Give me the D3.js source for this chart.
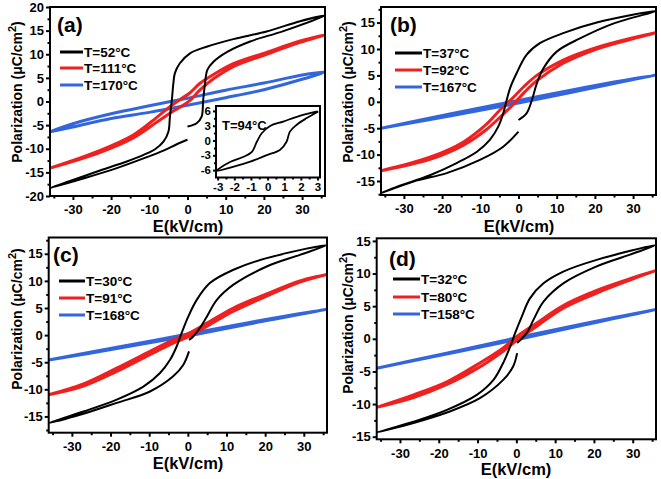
<!DOCTYPE html>
<html><head><meta charset="utf-8">
<script src="https://cdn.jsdelivr.net/npm/d3@7"></script>
<style>
body{margin:0;background:#fff;}
svg{display:block;font-family:"Liberation Sans",Arial,sans-serif;font-weight:bold;}
</style></head><body>
<svg id="c" width="661" height="479"></svg>
<script>
// ---------- DATA ----------
const xTicks = [-30,-20,-10,0,10,20,30];
const yTicksA = [-20,-15,-10,-5,0,5,10,15,20];
const yTicksB = [-15,-10,-5,0,5,10,15];
const yTicksC = [-15,-10,-5,0,5,10,15];
const yTicksD = [-15,-10,-5,0,5,10,15];
const insetXTicks = [-3,-2,-1,0,1,2,3];
const insetYTicks = [-6,-3,0,3,6];
const panelLabels = ["(a)","(b)","(c)","(d)"];
const legendA = ["T=52°C","T=111°C","T=170°C"];
const legendB = ["T=37°C","T=92°C","T=167°C"];
const legendC = ["T=30°C","T=91°C","T=168°C"];
const legendD = ["T=32°C","T=80°C","T=158°C"];
const insetLabel = "T=94°C";

// panel (a) loops [E, P] in traversal order
const aBlack = [[0,-5.3],[2.4,-4.6],[3.7,-3.2],[4.1,0.3],[4.6,3.85],[5.2,6.7],[6.8,8.4],[10.4,10.5],[16.4,12.7],[25.1,14.9],[36,18.2],
  [29.5,17.0],[20.7,14.8],[12.0,13.2],[5.0,11.6],[0.66,10.2],[-2.0,8.1],[-3.3,6.0],[-3.7,3.85],[-4.1,0.3],[-4.6,-3.2],[-5.0,-6.4],[-6.3,-8.5],[-8.5,-10.1],[-11.5,-11.3],[-15.9,-12.7],[-22.9,-14.6],[-30,-16.6],[-36,-18.3],
  [-27.3,-16.3],[-18.5,-14.1],[-10.7,-11.8],[-6.3,-10.4],[-2.8,-9.05],[0,-8.1]];
const aRed = [[-36,-14.1],[-23,-10.8],[-14.2,-7.7],[-8.1,-4.4],[-4.6,-2.5],[-2,-1.2],[0.6,0.2],[3.2,2.4],[6.8,4.8],[12,7.4],[20.7,10.0],[29.5,12.5],[36,14.1],
  [29.5,12.8],[20.7,10.4],[12,8.0],[6.8,5.7],[3.2,3.8],[0.6,1.8],[-2,0.4],[-4.6,-1.1],[-8.1,-3.4],[-14.2,-7.1],[-23,-10.4],[-36,-14.1]];
const aBlue = [[-36,-6.4],[-30,-5.4],[-20,-3.6],[-10,-2.3],[0,-0.8],[10,0.8],[20,2.5],[30,4.7],[36,6.3],
  [30,5.6],[20,3.9],[10,2.4],[0,0.7],[-10,-0.9],[-20,-2.6],[-30,-4.7],[-36,-6.4]];
const insetLoop = [[3.0,5.9],[1.93,5.0],[0.94,3.85],[0.15,2.96],[-0.35,1.47],[-0.64,-0.2],[-0.94,-2.3],[-1.44,-3.3],[-2.23,-4.3],[-3.0,-5.9],
  [-3.1,-6.2],[-2.03,-5.3],[-1.04,-4.3],[-0.05,-2.96],[0.74,-1.94],[1.14,-0.24],[1.34,1.8],[1.74,3.16],[2.33,4.5],[3.05,5.9]];

// panel (b)
const bBlack = [[0,-3.45],[2.1,-2.2],[3.5,0.3],[4.8,3.5],[6.5,6.3],[10,9.5],[16.1,12.0],[24.8,14.8],[36,17.2],
  [20.5,15.0],[11.7,13.0],[5.6,11.1],[2.1,8.9],[-0.5,5.4],[-2.2,2.6],[-3.1,0.3],[-4.0,-2.2],[-5.3,-4.7],[-7.5,-7.2],[-10.9,-9.45],[-16.2,-11.6],[-23.2,-13.9],[-31.9,-16.1],[-36,-17.3],
  [-27.5,-15.1],[-18.8,-13.5],[-10.1,-11.0],[-4.0,-8.5],[0,-5.66]];
const bRed = [[-36,-13.05],[-23.2,-10.9],[-14.4,-8.2],[-8.3,-5.2],[-4.8,-2.9],[-1.4,-0.5],[1.3,1.6],[4.8,4.0],[11.7,7.3],[20.5,10.0],[29.2,11.8],[36,13.1],
  [29.2,12.0],[20.5,10.3],[11.7,7.9],[4.8,5.0],[1.3,2.8],[-1.4,0.8],[-4.8,-1.5],[-8.3,-4.2],[-14.4,-7.6],[-23.2,-10.5],[-36,-13.05]];
const bBlue = [[-36,-5.0],[-18,-2.7],[0,-0.25],[18,2.4],[36,5.1],[18,2.8],[0,0.25],[-18,-2.3],[-36,-5.0]];

// panel (c)
const cBlack = [[0.3,-0.87],[1.4,-0.25],[3.1,1.3],[4.9,3.4],[7.5,6.5],[11.8,9.3],[20.4,12.65],[29.0,14.8],[36,16.6],
  [20.4,14.2],[11.8,12.05],[5.7,9.6],[2.3,6.5],[0.1,3.4],[-1.6,0.4],[-2.9,-2.1],[-4.6,-4.55],[-7.2,-7.0],[-11.5,-9.5],[-18.4,-11.9],[-27.0,-14.1],[-36,-16.2],
  [-27,-14.5],[-18.4,-12.5],[-9.8,-10.4],[-3.8,-7.6],[-1.2,-5.5],[0.3,-3.0]];
const cRed = [[-36,-11.0],[-27,-9.4],[-18.4,-6.7],[-9.8,-3.6],[-3.8,-1.5],[0.3,-0.25],[4.9,1.6],[11.8,4.4],[20.4,7.2],[29,9.8],[36,11.2],
  [29,10.0],[20.4,7.6],[11.8,5.0],[4.9,2.2],[0.3,0.35],[-3.8,-0.9],[-9.8,-3.0],[-18.4,-6.1],[-27,-9.0],[-36,-11.0]];
const cBlue = [[-36,-4.6],[-18,-2.45],[0,-0.15],[18,2.35],[36,4.8],[18,2.6],[0,0.2],[-18,-2.2],[-36,-4.6]];

// panel (d)
const dBlack = [[0.2,-0.66],[2.7,0.9],[4.4,2.9],[7.0,5.7],[12.1,8.5],[20.7,11.1],[29.3,12.9],[36,14.35],
  [20.7,12.1],[12.1,10.3],[7.0,8.5],[3.5,6.2],[1.4,3.4],[-0.3,0.9],[-1.6,-1.2],[-3.4,-3.7],[-5.9,-6.3],[-10.2,-8.6],[-17.9,-10.9],[-26.5,-12.7],[-36,-14.35],
  [-26.5,-12.9],[-17.9,-11.3],[-9.4,-9.1],[-3.4,-6.3],[-0.8,-4.2],[0.2,-2.2]];
const dRed = [[-36,-10.5],[-26.5,-9.0],[-17.9,-7.0],[-9.4,-4.3],[-3.4,-1.9],[0.2,-0.2],[5.2,1.9],[12.1,4.7],[20.7,7.0],[29.3,9.0],[36,10.5],
  [29.3,9.2],[20.7,7.4],[12.1,5.1],[5.2,2.4],[0.2,0.4],[-3.4,-1.4],[-9.4,-3.7],[-17.9,-6.6],[-26.5,-8.6],[-36,-10.5]];
const dBlue = [[-36,-4.5],[-18,-2.35],[0,-0.15],[18,2.2],[36,4.5],[18,2.4],[0,0.15],[-18,-2.2],[-36,-4.5]];

// ---------- DRAW ----------
const svg = d3.select("#c");
const colors = ["#000000","#ee2020","#3366dd"];
const widths = [2,3,3];
const fmt = d => String(d);

const panels = [
  {id:"a", box:[50,325,7,196], ydom:[-20,20], yt:yTicksA, series:[aBlack,aRed,aBlue], leg:legendA,
   legX:[60,83], legY:[52,68,85], lab:[57,32], ylab:[22,92], xlab:[188,232]},
  {id:"b", box:[381,656,7,195], ydom:[-17.65,17.95], yt:yTicksB, series:[bBlack,bRed,bBlue], leg:legendB,
   legX:[395,422], legY:[53,70,87], lab:[390,32], ylab:[353,92], xlab:[519,232]},
  {id:"c", box:[48.7,327,237.5,432.7], ydom:[-18,18], yt:yTicksC, series:[cBlack,cRed,cBlue], leg:legendC,
   legX:[59,85], legY:[281,298,315], lab:[53,262], ylab:[22,319], xlab:[188,469]},
  {id:"d", box:[376.7,656,238.3,439.3], ydom:[-15.4,15.4], yt:yTicksD, series:[dBlack,dRed,dBlue], leg:legendD,
   legX:[393,420], legY:[279,297,314], lab:[389,266], ylab:[353,323], xlab:[516,475]}
];

function drawAxes(g, x, y, xt, yt, xMinor, yMinor, fs, majorLen, minorLen, padX){
  const [x0,x1] = x.range(); const [y1,y0] = y.range();
  const ax = g.append("g").attr("transform",`translate(0,${y1})`)
    .call(d3.axisBottom(x).tickValues(xt).tickSize(majorLen).tickSizeOuter(0).tickPadding(padX).tickFormat(fmt));
  ax.select(".domain").remove();
  ax.selectAll("line").attr("stroke","#000").attr("stroke-width",2);
  ax.selectAll("text").attr("font-size",fs).attr("font-family","Liberation Sans, Arial").attr("font-weight","bold").attr("fill","#000");
  const axm = g.append("g").attr("transform",`translate(0,${y1})`)
    .call(d3.axisBottom(x).tickValues(xMinor).tickSize(minorLen).tickFormat(""));
  axm.select(".domain").remove();
  axm.selectAll("line").attr("stroke","#000").attr("stroke-width",2);
  const ay = g.append("g").attr("transform",`translate(${x0},0)`)
    .call(d3.axisLeft(y).tickValues(yt).tickSize(majorLen).tickSizeOuter(0).tickPadding(2).tickFormat(fmt));
  ay.select(".domain").remove();
  ay.selectAll("line").attr("stroke","#000").attr("stroke-width",2);
  ay.selectAll("text").attr("font-size",fs).attr("font-family","Liberation Sans, Arial").attr("font-weight","bold").attr("fill","#000");
  const aym = g.append("g").attr("transform",`translate(${x0},0)`)
    .call(d3.axisLeft(y).tickValues(yMinor).tickSize(minorLen).tickFormat(""));
  aym.select(".domain").remove();
  aym.selectAll("line").attr("stroke","#000").attr("stroke-width",2);
  g.append("rect").attr("x",x0).attr("y",y0).attr("width",x1-x0).attr("height",y1-y0)
    .attr("fill","none").attr("stroke","#000").attr("stroke-width",2);
}

panels.forEach((p,i)=>{
  const [bx0,bx1,by0,by1] = p.box;
  const x = d3.scaleLinear().domain([-36,36]).range([bx0,bx1]);
  const y = d3.scaleLinear().domain(p.ydom).range([by1,by0]);
  const g = svg.append("g");
  const cid = "clip"+p.id;
  svg.append("clipPath").attr("id",cid).append("rect").attr("x",bx0).attr("y",by0).attr("width",bx1-bx0).attr("height",by1-by0);
  const line = d3.line().x(d=>x(d[0])).y(d=>y(d[1])).curve(d3.curveCatmullRom.alpha(0.5));
  [2,1,0].forEach(k=>{
    g.append("path").attr("d",line(p.series[k])).attr("fill","none")
      .attr("stroke",colors[k]).attr("stroke-width",widths[k]).attr("stroke-linejoin","round")
      .attr("clip-path",`url(#${cid})`);
  });
  const yMinor = d3.range(-20,20.01,2.5).filter(v=>v>=p.ydom[0]&&v<=p.ydom[1]&&!p.yt.includes(v));
  drawAxes(g,x,y,xTicks,p.yt,[-35,-25,-15,-5,5,15,25,35],yMinor,13,4,2.5,5);
  p.leg.forEach((t,k)=>{
    g.append("line").attr("x1",p.legX[0]).attr("x2",p.legX[1]).attr("y1",p.legY[k]).attr("y2",p.legY[k])
      .attr("stroke",colors[k]).attr("stroke-width",3);
    g.append("text").attr("x",p.legX[1]+1).attr("y",p.legY[k]+5).attr("font-size",13.5).text(t);
  });
  g.append("text").attr("x",p.lab[0]).attr("y",p.lab[1]).attr("font-size",21).text(panelLabels[i]);
  const yl = g.append("text").attr("transform",`translate(${p.ylab[0]},${p.ylab[1]}) rotate(-90)`)
    .attr("text-anchor","middle").attr("font-size",14);
  yl.append("tspan").text("Polarization (μC/cm");
  yl.append("tspan").attr("dy",-6).attr("font-size",11).text("2");
  yl.append("tspan").attr("dy",6).text(")");
  g.append("text").attr("x",p.xlab[0]).attr("y",p.xlab[1]).attr("text-anchor","middle").attr("font-size",16.5).text("E(kV/cm)");
});

// inset in panel (a)
{
  const x = d3.scaleLinear().domain([-3.1,3.15]).range([216,320]);
  const y = d3.scaleLinear().domain([-7.5,7.0]).range([177.5,106]);
  const g = svg.append("g");
  g.append("rect").attr("x",216).attr("y",106).attr("width",104).attr("height",71.5).attr("fill","#fff");
  svg.append("clipPath").attr("id","clipi").append("rect").attr("x",216).attr("y",106).attr("width",104).attr("height",71.5);
  const line = d3.line().x(d=>x(d[0])).y(d=>y(d[1])).curve(d3.curveCatmullRom.alpha(0.5));
  g.append("path").attr("d",line(insetLoop)).attr("fill","none").attr("stroke","#000").attr("stroke-width",1.8).attr("clip-path","url(#clipi)");
  drawAxes(g,x,y,insetXTicks,insetYTicks,[-2.5,-1.5,-0.5,0.5,1.5,2.5],[-4.5,-1.5,1.5,4.5],11.5,3,2,2);
  g.append("text").attr("x",222).attr("y",130).attr("font-size",13).text(insetLabel);
}
</script></body></html>
